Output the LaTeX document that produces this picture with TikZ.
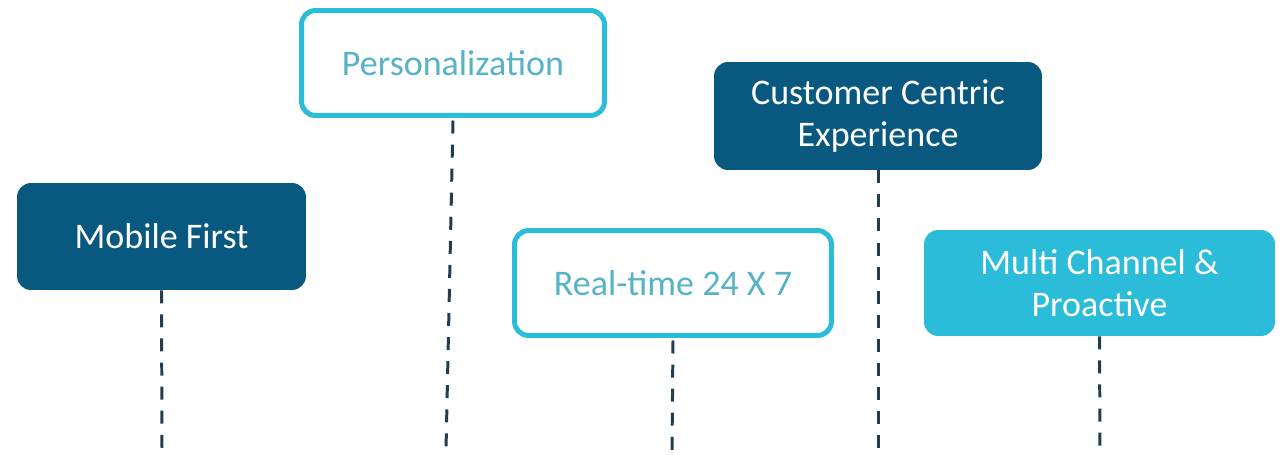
\documentclass[tikz,border=0pt]{standalone}
\usepackage{fontspec}
\setmainfont{Carlito}
\usepackage{xcolor}
\usepackage{tikz}
\usetikzlibrary{positioning}

\definecolor{navyblue}{RGB}{8,88,128}
\definecolor{skycyan}{RGB}{42,188,216}
\definecolor{softteal}{RGB}{86,178,198}
\definecolor{stemgray}{RGB}{32,62,82}

\begin{document}
\begin{tikzpicture}[x=0.02cm, y=-0.02cm,
  tag/.style={rounded corners=0.28cm, align=center, inner sep=0pt,
    font=\fontsize{20.5}{24}\selectfont},
  darktag/.style={tag, fill=navyblue, text=white},
  filltag/.style={tag, fill=skycyan, text=white},
  linetag/.style={tag, draw=skycyan, line width=0.1cm, fill=white, text=softteal},
  stem/.style={stemgray, line width=1.7pt, dash pattern=on 7.4pt off 6.3pt}]
\useasboundingbox (0,0) rectangle (1281,454);
% boxes
\node[darktag, minimum width=5.78cm, minimum height=2.14cm] (mobile) at (161.5,236.5) {Mobile First};
\node[linetag, minimum width=6.06cm, minimum height=2.1cm] (personal) at (453,63) {Personalization};
\node[linetag, minimum width=6.34cm, minimum height=2.1cm] (realtime) at (673,283) {Real-time 24 X 7};
\node[darktag, minimum width=6.56cm, minimum height=2.16cm] (customer) at (878,116) {Customer Centric\\Experience};
\node[filltag, minimum width=7.02cm, minimum height=2.12cm] (multi) at (1099.5,283) {Multi Channel \&\\Proactive};
% stem ends
\coordinate (mobile-end) at (162,450);
\coordinate (personal-end) at (446,450);
\coordinate (realtime-end) at (672,450);
\coordinate (customer-end) at (878,454);
\coordinate (multi-end) at (1100,454);
% dashed stems
\draw[stem] (mobile.south) -- (mobile-end);
\draw[stem] (personal.south) ++(0,2.5) -- (personal-end);
\draw[stem] (realtime.south) ++(0,2.5) -- (realtime-end);
\draw[stem] (customer.south) -- (customer-end);
\draw[stem] (multi.south) -- (multi-end);
\end{tikzpicture}
\end{document}
